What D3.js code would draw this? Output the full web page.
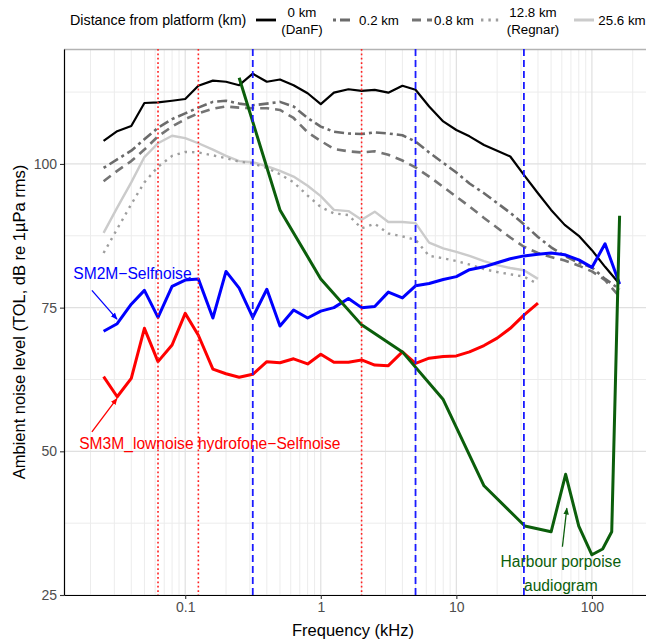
<!DOCTYPE html>
<html>
<head>
<meta charset="utf-8">
<script src="https://cdn.jsdelivr.net/npm/d3@7"></script>
<style>
  body { margin: 0; background: #fff; }
  svg { font-family: "Liberation Sans", Arial, sans-serif; }
  .tick text { fill: #4d4d4d; font-size: 14px; }
</style>
</head>
<body>
<div id="chart"></div>
<script>
// Third octave band centre frequencies (kHz)
var freq = [0.025, 0.0315, 0.04, 0.05, 0.063, 0.08, 0.1, 0.125, 0.16, 0.2, 0.25, 0.315,
    0.4, 0.5, 0.63, 0.8, 1, 1.25, 1.6, 2, 2.5, 3.15, 4, 5, 6.3, 8, 10, 12.5, 16, 20, 25,
    31.5, 40, 50, 63, 80, 100, 125, 160];

// Ambient noise per distance (dB re 1uPa rms)
var km0 = [104.0, 105.7, 106.6, 110.6, 110.7, 111.0, 111.3, 113.6, 114.5, 114.3, 113.7, 115.7,
    114.3, 114.7, 113.7, 112.3, 110.4, 112.4, 113.0, 112.7, 112.9, 112.4, 113.6, 112.9, 110.0,
    107.4, 105.9, 104.8, 103.3, 102.3, 101.3, 98.1, 94.9, 92.0, 89.4, 87.5, 85.0, 82.1, 79.1];
var km02 = [99.3, 100.8, 102.3, 104.3, 106.3, 107.8, 108.8, 109.8, 110.8, 111.0, 110.5, 110.2,
    110.5, 110.8, 110.0, 108.0, 106.5, 105.6, 105.3, 105.2, 105.5, 105.3, 105.0, 103.9, 102.0,
    100.2, 98.5, 96.6, 94.9, 93.2, 91.5, 89.5, 87.3, 85.5, 84.0, 82.8, 82.0, 80.0, 78.2];
var km08 = [97.0, 98.8, 100.5, 102.5, 104.8, 106.5, 107.8, 108.8, 109.6, 110.0, 109.8, 109.7,
    109.7, 109.4, 108.0, 105.5, 104.0, 102.6, 102.2, 102.0, 102.2, 101.6, 100.6, 99.4, 97.8,
    96.0, 94.3, 92.6, 90.6, 88.9, 87.2, 85.6, 84.5, 83.8, 83.2, 82.3, 81.3, 79.8, 76.9];
var km128 = [84.5, 88.7, 93.0, 96.8, 99.5, 101.4, 102.1, 102.0, 101.5, 101.0, 100.4, 100.1,
    99.3, 98.2, 96.8, 94.5, 92.5, 91.4, 91.1, 88.8, 89.6, 87.9, 87.4, 86.8, 84.0,
    83.6, 83.1, 82.5, 81.7, 81.2, 80.8, 80.4, 79.1];
var km256 = [88.0, 92.4, 96.8, 101.2, 103.6, 104.9, 104.5, 103.6, 102.5, 101.4, 100.5, 100.3,
    99.6, 98.8, 97.8, 96.2, 94.4, 92.0, 91.8, 90.3, 91.7, 89.9, 89.9, 89.7, 86.3,
    85.3, 84.7, 84.0, 83.1, 82.4, 81.9, 81.5, 80.0];

// Recorder self noise
var sm2m = [70.9, 72.2, 75.6, 78.0, 73.3, 78.7, 79.8, 80.0, 73.2, 81.3, 78.4, 73.3,
    78.2, 71.8, 74.6, 73.2, 74.4, 75.0, 76.6, 75.0, 75.2, 77.7, 76.7, 78.8, 79.2,
    79.9, 80.4, 81.6, 82.1, 82.8, 83.5, 84.0, 84.3, 84.5, 84.2, 83.3, 82.0, 86.1, 79.1];
var sm3m = [63.0, 59.5, 62.7, 71.4, 65.6, 68.5, 74.0, 70.2, 64.3, 63.5, 62.9, 63.4,
    65.6, 65.4, 66.1, 65.2, 66.9, 65.5, 65.5, 65.9, 65.0, 64.9, 67.3, 65.3, 66.2,
    66.5, 66.6, 67.3, 68.4, 69.7, 71.4, 73.7, 75.8];

// Harbour porpoise audiogram
var audFreq = [0.25, 0.5, 1, 2, 4, 8, 16, 32, 50, 64, 80, 100, 120, 140, 160];
var audLevel = [115.0, 92.0, 80.0, 72.0, 67.3, 59.0, 44.0, 37.0, 36.0, 46.0, 37.0, 32.0, 33.0, 36.0, 91.0];

// Reference frequencies (kHz)
var redLines = [0.063, 0.125, 2];
var blueLines = [0.315, 5, 31.5];

// Tick labels
var xTicks = [0.1, 1, 10, 100];
var yTicks = [25, 50, 75, 100];
var yMinor = [37.5, 62.5, 87.5, 112.5];

// Legend entries
var legendNames = [["0 km", "(DanF)"], ["0.2 km"], ["0.8 km"], ["12.8 km", "(Regnar)"], ["25.6 km"]];

var svgWidth = 646;
var svgHeight = 639;
var margin = { top: 49, right: 0, bottom: 44, left: 64 };
var chartWidth = svgWidth - margin.left - margin.right;
var chartHeight = svgHeight - margin.top - margin.bottom;

var svg = d3.select("#chart")
    .append("svg")
    .attr("width", svgWidth)
    .attr("height", svgHeight);

var chartGroup = svg.append("g")
    .attr("transform", `translate(${margin.left}, ${margin.top})`);

var xScale = d3.scaleLog()
    .domain([0.01276, 250.6])
    .range([0, chartWidth]);

var yScale = d3.scaleLinear()
    .domain([25, 120])
    .range([chartHeight, 0]);

// minor grid: 2..9 within each decade
var xMinor = [];
[0.01, 0.1, 1, 10, 100].forEach(function (dec) {
    for (var m = 2; m <= 9; m++) {
        var v = m * dec;
        if (v > xScale.domain()[0] && v < xScale.domain()[1]) xMinor.push(v);
    }
});

var grid = chartGroup.append("g");
grid.selectAll(".xminor").data(xMinor).enter().append("line")
    .attr("x1", d => xScale(d)).attr("x2", d => xScale(d))
    .attr("y1", 0).attr("y2", chartHeight)
    .attr("stroke", "#ececec").attr("stroke-width", 1);
grid.selectAll(".yminor").data(yMinor).enter().append("line")
    .attr("x1", 0).attr("x2", chartWidth)
    .attr("y1", d => yScale(d)).attr("y2", d => yScale(d))
    .attr("stroke", "#ececec").attr("stroke-width", 1);
grid.selectAll(".xmajor").data(xTicks).enter().append("line")
    .attr("x1", d => xScale(d)).attr("x2", d => xScale(d))
    .attr("y1", 0).attr("y2", chartHeight)
    .attr("stroke", "#e0e0e0").attr("stroke-width", 1.2);
grid.selectAll(".ymajor").data(yTicks).enter().append("line")
    .attr("x1", 0).attr("x2", chartWidth)
    .attr("y1", d => yScale(d)).attr("y2", d => yScale(d))
    .attr("stroke", "#e0e0e0").attr("stroke-width", 1.2);

// panel top border
chartGroup.append("line")
    .attr("x1", 0).attr("x2", chartWidth)
    .attr("y1", 0.5).attr("y2", 0.5)
    .attr("stroke", "#b3b3b3").attr("stroke-width", 1.3);

// distance series styles
var series = [
    { values: km0, color: "#000000", width: 2.2, dash: null },
    { values: km02, color: "#6b6b6b", width: 2.6, dash: "3,4,10,4" },
    { values: km08, color: "#747474", width: 2.6, dash: "9,6" },
    { values: km128, color: "#9e9e9e", width: 2.4, dash: "2.4,5" },
    { values: km256, color: "#cbcbcb", width: 2.4, dash: null }
];

var line = d3.line()
    .x(d => xScale(d.f))
    .y(d => yScale(d.v));

function zip(fs, vs) {
    return vs.map((v, i) => ({ f: fs[i], v: v }));
}

series.slice().reverse().forEach(function (s) {
    chartGroup.append("path")
        .datum(zip(freq, s.values))
        .attr("d", line)
        .attr("fill", "none")
        .attr("stroke", s.color)
        .attr("stroke-width", s.width)
        .attr("stroke-dasharray", s.dash)
        .attr("stroke-linejoin", "round");
});

// self noise lines
chartGroup.append("path")
    .datum(zip(freq, sm2m))
    .attr("d", line)
    .attr("fill", "none")
    .attr("stroke", "#0000ff")
    .attr("stroke-width", 3)
    .attr("stroke-linejoin", "round");

chartGroup.append("path")
    .datum(zip(freq, sm3m))
    .attr("d", line)
    .attr("fill", "none")
    .attr("stroke", "#ff0000")
    .attr("stroke-width", 3)
    .attr("stroke-linejoin", "round");

// audiogram
chartGroup.append("path")
    .datum(zip(audFreq, audLevel))
    .attr("d", line)
    .attr("fill", "none")
    .attr("stroke", "#0b5e0b")
    .attr("stroke-width", 3)
    .attr("stroke-linejoin", "round");

// reference vertical lines
chartGroup.selectAll(".vred").data(redLines).enter().append("line")
    .attr("x1", d => xScale(d)).attr("x2", d => xScale(d))
    .attr("y1", 0).attr("y2", chartHeight)
    .attr("stroke", "#ff2020").attr("stroke-width", 1.6)
    .attr("stroke-dasharray", "1.8,2.6");
chartGroup.selectAll(".vblue").data(blueLines).enter().append("line")
    .attr("x1", d => xScale(d)).attr("x2", d => xScale(d))
    .attr("y1", 0).attr("y2", chartHeight)
    .attr("stroke", "#1a1aff").attr("stroke-width", 1.8)
    .attr("stroke-dasharray", "7,4");

// arrow heads
var defs = svg.append("defs");
[["arrBlue", "#0000ff"], ["arrRed", "#ff0000"], ["arrGreen", "#0b5e0b"]].forEach(function (a) {
    defs.append("marker")
        .attr("id", a[0])
        .attr("viewBox", "0 0 10 10")
        .attr("refX", 9).attr("refY", 5)
        .attr("markerWidth", 7).attr("markerHeight", 7)
        .attr("markerUnits", "userSpaceOnUse")
        .attr("orient", "auto")
        .append("path")
        .attr("d", "M0,1 L10,5 L0,9 Z")
        .attr("fill", a[1]);
});

// annotations: [from freq, from dB, to freq, to dB]
var annotations = [
    { text: ["SM2M\u2212Selfnoise"], f: 0.0408, v: 81.0, color: "#0000ff", marker: "arrBlue", arrow: [0.0205, 78.0, 0.0314, 73.0] },
    { text: ["SM3M_lownoise hydrofone\u2212Selfnoise"], f: 0.152, v: 51.4, color: "#ff0000", marker: "arrRed", arrow: [0.0205, 53.4, 0.0314, 59.2] },
    { text: ["Harbour porpoise", "audiogram"], f: 59, v: 30.9, color: "#0b5e0b", marker: "arrGreen", arrow: [60.6, 33.4, 65.3, 40.1] }
];

annotations.forEach(function (a) {
    chartGroup.append("line")
        .attr("x1", xScale(a.arrow[0])).attr("y1", yScale(a.arrow[1]))
        .attr("x2", xScale(a.arrow[2])).attr("y2", yScale(a.arrow[3]))
        .attr("stroke", a.color).attr("stroke-width", 1.3)
        .attr("marker-end", `url(#${a.marker})`);
    var t = chartGroup.append("text")
        .attr("x", xScale(a.f))
        .attr("y", yScale(a.v))
        .attr("dy", "0.35em")
        .attr("text-anchor", "middle")
        .attr("fill", a.color)
        .style("font-size", "15.6px");
    a.text.forEach(function (s, i) {
        t.append("tspan")
            .attr("x", xScale(a.f))
            .attr("dy", i === 0 ? "0.35em" : "24px")
            .text(s);
    });
});

// axes
var bottomAxis = d3.axisBottom(xScale)
    .tickValues(xTicks)
    .tickFormat(d3.format(""))
    .tickSize(4)
    .tickSizeOuter(0)
    .tickPadding(3);
var leftAxis = d3.axisLeft(yScale)
    .tickValues(yTicks)
    .tickSize(4)
    .tickSizeOuter(0)
    .tickPadding(3);

var xAxis = chartGroup.append("g")
    .attr("transform", `translate(0, ${chartHeight})`)
    .call(bottomAxis);
var yAxis = chartGroup.append("g")
    .call(leftAxis);

[xAxis, yAxis].forEach(function (ax) {
    ax.select(".domain").attr("stroke", "#000").attr("stroke-width", 1.2);
    ax.selectAll(".tick line").attr("stroke", "#333").attr("stroke-width", 1.1);
    ax.selectAll(".tick text").style("font-family", "Liberation Sans, Arial, sans-serif");
});

// axis titles
svg.append("text")
    .attr("x", margin.left + chartWidth / 2 - 2)
    .attr("y", 636)
    .attr("text-anchor", "middle")
    .style("font-size", "16.5px")
    .text("Frequency (kHz)");

svg.append("text")
    .attr("transform", "rotate(-90)")
    .attr("x", -(margin.top + chartHeight / 2))
    .attr("y", 25)
    .attr("text-anchor", "middle")
    .style("font-size", "16.5px")
    .text("Ambient noise level (TOL, dB re 1\u00b5Pa rms)");

// legend
var legend = svg.append("g");
legend.append("text")
    .attr("x", 70)
    .attr("y", 20)
    .attr("dy", "0.35em")
    .style("font-size", "14.3px")
    .text("Distance from platform (km)");

var keyX = [256, 333, 412, 481, 574];
var labelX = [302, 379, 454, 533, 622];

legendNames.forEach(function (names, i) {
    var s = series[i];
    legend.append("line")
        .attr("x1", keyX[i]).attr("x2", keyX[i] + 20)
        .attr("y1", 20).attr("y2", 20)
        .attr("stroke", s.color)
        .attr("stroke-width", s.width + 0.6)
        .attr("stroke-dasharray", s.dash);
    names.forEach(function (n, j) {
        var yPos = names.length === 1 ? 20 : 12 + j * 17;
        legend.append("text")
            .attr("x", labelX[i])
            .attr("y", yPos)
            .attr("dy", "0.35em")
            .attr("text-anchor", "middle")
            .style("font-size", "13.3px")
            .text(n);
    });
});
</script>
</body>
</html>
